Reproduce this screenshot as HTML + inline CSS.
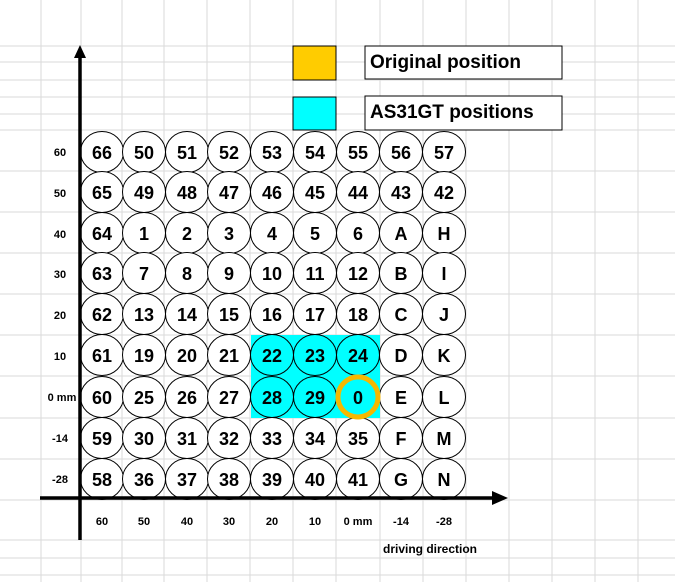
<!DOCTYPE html>
<html><head><style>
body{margin:0;background:#fff;}
svg text{font-family:"Liberation Sans",Arial,sans-serif;font-weight:bold;fill:#000;}
</style></head><body>
<svg width="675" height="582" viewBox="0 0 675 582" xmlns="http://www.w3.org/2000/svg">
<defs>
<ellipse id="e" cx="0" cy="0" rx="21.5" ry="20.5" fill="#fff" stroke="#000"/>
<ellipse id="o" cx="0" cy="0" rx="21.5" ry="20.5" fill="none" stroke="#000"/>
<g id="row">
<use href="#e" x="102"/><use href="#e" x="144"/><use href="#e" x="187"/><use href="#e" x="229"/><use href="#e" x="272"/><use href="#e" x="315"/><use href="#e" x="358"/><use href="#e" x="401"/><use href="#e" x="444"/>
</g>
<g id="rowc">
<use href="#e" x="102"/><use href="#e" x="144"/><use href="#e" x="187"/><use href="#e" x="229"/><use href="#o" x="272"/><use href="#o" x="315"/><use href="#o" x="358"/><use href="#e" x="401"/><use href="#e" x="444"/>
</g>
</defs>
<g stroke="#dadada" stroke-width="1">
<line x1="41" y1="0" x2="41" y2="582"/><line x1="81" y1="0" x2="81" y2="582"/><line x1="122" y1="0" x2="122" y2="582"/>
<line x1="164" y1="0" x2="164" y2="582"/><line x1="207" y1="0" x2="207" y2="582"/><line x1="250" y1="0" x2="250" y2="582"/>
<line x1="293" y1="0" x2="293" y2="582"/><line x1="336" y1="0" x2="336" y2="582"/><line x1="380" y1="0" x2="380" y2="582"/>
<line x1="423" y1="0" x2="423" y2="582"/><line x1="466" y1="0" x2="466" y2="582"/><line x1="509" y1="0" x2="509" y2="582"/>
<line x1="552" y1="0" x2="552" y2="582"/><line x1="595" y1="0" x2="595" y2="582"/><line x1="638" y1="0" x2="638" y2="582"/>
<line x1="0" y1="46" x2="675" y2="46"/><line x1="0" y1="62" x2="675" y2="62"/>
<line x1="0" y1="80" x2="675" y2="80"/><line x1="0" y1="97" x2="675" y2="97"/><line x1="0" y1="114" x2="675" y2="114"/>
<line x1="0" y1="130" x2="675" y2="130"/><line x1="0" y1="171" x2="675" y2="171"/><line x1="0" y1="212" x2="675" y2="212"/>
<line x1="0" y1="253" x2="675" y2="253"/><line x1="0" y1="294" x2="675" y2="294"/><line x1="0" y1="335" x2="675" y2="335"/>
<line x1="0" y1="376" x2="675" y2="376"/><line x1="0" y1="418" x2="675" y2="418"/><line x1="0" y1="459" x2="675" y2="459"/>
<line x1="0" y1="500" x2="675" y2="500"/><line x1="0" y1="540" x2="675" y2="540"/><line x1="0" y1="558" x2="675" y2="558"/>
<line x1="0" y1="575" x2="675" y2="575"/>
</g>
<rect x="251" y="335" width="129" height="83" fill="#00ffff"/>
<rect x="293" y="46" width="43" height="34" fill="#ffcc00" stroke="#000"/>
<rect x="293" y="97" width="43" height="33" fill="#00ffff" stroke="#000"/>
<rect x="365" y="46" width="197" height="33" fill="#fff" stroke="#000"/>
<rect x="365" y="96" width="197" height="34" fill="#fff" stroke="#000"/>
<text x="370" y="68" font-size="19">Original  position</text>
<text x="370" y="118" font-size="19">AS31GT positions</text>

<use href="#row" y="152"/><use href="#row" y="192"/><use href="#row" y="233"/><use href="#row" y="273"/><use href="#row" y="314"/>
<use href="#rowc" y="355"/><use href="#rowc" y="397"/><use href="#row" y="438"/><use href="#row" y="479"/>
<circle cx="358" cy="397" r="20" fill="none" stroke="#f5b800" stroke-width="5"/>

<g font-size="18" text-anchor="middle">
<text x="102" y="159">66</text><text x="144" y="159">50</text><text x="187" y="159">51</text><text x="229" y="159">52</text><text x="272" y="159">53</text><text x="315" y="159">54</text><text x="358" y="159">55</text><text x="401" y="159">56</text><text x="444" y="159">57</text>
<text x="102" y="199">65</text><text x="144" y="199">49</text><text x="187" y="199">48</text><text x="229" y="199">47</text><text x="272" y="199">46</text><text x="315" y="199">45</text><text x="358" y="199">44</text><text x="401" y="199">43</text><text x="444" y="199">42</text>
<text x="102" y="240">64</text><text x="144" y="240">1</text><text x="187" y="240">2</text><text x="229" y="240">3</text><text x="272" y="240">4</text><text x="315" y="240">5</text><text x="358" y="240">6</text><text x="401" y="240">A</text><text x="444" y="240">H</text>
<text x="102" y="280">63</text><text x="144" y="280">7</text><text x="187" y="280">8</text><text x="229" y="280">9</text><text x="272" y="280">10</text><text x="315" y="280">11</text><text x="358" y="280">12</text><text x="401" y="280">B</text><text x="444" y="280">I</text>
<text x="102" y="321">62</text><text x="144" y="321">13</text><text x="187" y="321">14</text><text x="229" y="321">15</text><text x="272" y="321">16</text><text x="315" y="321">17</text><text x="358" y="321">18</text><text x="401" y="321">C</text><text x="444" y="321">J</text>
<text x="102" y="362">61</text><text x="144" y="362">19</text><text x="187" y="362">20</text><text x="229" y="362">21</text><text x="272" y="362">22</text><text x="315" y="362">23</text><text x="358" y="362">24</text><text x="401" y="362">D</text><text x="444" y="362">K</text>
<text x="102" y="404">60</text><text x="144" y="404">25</text><text x="187" y="404">26</text><text x="229" y="404">27</text><text x="272" y="404">28</text><text x="315" y="404">29</text><text x="358" y="404">0</text><text x="401" y="404">E</text><text x="444" y="404">L</text>
<text x="102" y="445">59</text><text x="144" y="445">30</text><text x="187" y="445">31</text><text x="229" y="445">32</text><text x="272" y="445">33</text><text x="315" y="445">34</text><text x="358" y="445">35</text><text x="401" y="445">F</text><text x="444" y="445">M</text>
<text x="102" y="486">58</text><text x="144" y="486">36</text><text x="187" y="486">37</text><text x="229" y="486">38</text><text x="272" y="486">39</text><text x="315" y="486">40</text><text x="358" y="486">41</text><text x="401" y="486">G</text><text x="444" y="486">N</text>
</g>

<g stroke="#000" stroke-width="3.5">
<line x1="80" y1="58" x2="80" y2="540"/>
<line x1="40" y1="498" x2="492" y2="498"/>
</g>
<polygon points="80,45 74,58 86,58" fill="#000"/>
<polygon points="508,498 492,491 492,505" fill="#000"/>
<g font-size="11" text-anchor="middle">
<text x="60" y="156">60</text><text x="60" y="197">50</text><text x="60" y="238">40</text>
<text x="60" y="278">30</text><text x="60" y="319">20</text><text x="60" y="360">10</text>
<text x="62" y="401">0 mm</text><text x="60" y="442">-14</text><text x="60" y="483">-28</text>
<text x="102" y="525">60</text><text x="144" y="525">50</text><text x="187" y="525">40</text>
<text x="229" y="525">30</text><text x="272" y="525">20</text><text x="315" y="525">10</text>
<text x="358" y="525">0 mm</text><text x="401" y="525">-14</text><text x="444" y="525">-28</text>
</g>
<text x="383" y="553" font-size="12">driving direction</text>
</svg>
</body></html>
